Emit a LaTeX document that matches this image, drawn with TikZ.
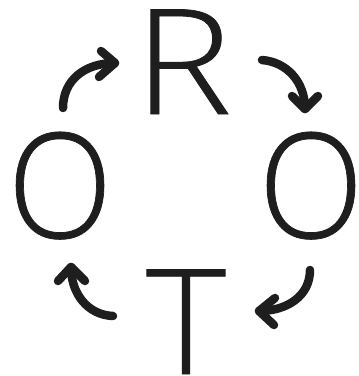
\documentclass[tikz,border=0pt]{standalone}
\usepackage{fontspec}
\usepackage{graphicx}
\newfontfamily\logofont{Open Sans Light}[FakeBold=0.5]
\definecolor{ink}{HTML}{1E1E1E}
\begin{document}
\begin{tikzpicture}[x=1bp,y=-1bp,
  letter/.style={inner sep=0pt, outer sep=0pt, anchor=base, text=ink, font=\logofont\fontsize{147}{147}\selectfont},
  arr/.style={line width=8.5bp, line cap=round, line join=round, draw=ink}]
\useasboundingbox (0,0) rectangle (359,376);
\node[letter] (R)  at (183,114) {\scalebox{1.12}[1]{R}};
\node[letter] (OL) at (60,238) {\scalebox{0.94}[1]{O}};
\node[letter] (OR) at (311,238) {\scalebox{0.94}[1]{O}};
\node[letter] (T)  at (186,374) {\scalebox{1.04}[1]{T}};
% top-left arrow
\coordinate (a1s) at (63,108);
\coordinate (a1t) at (115,63);
\draw[arr] (a1s) .. controls (63,80) and (85,63) .. (a1t);
\draw[arr] (101,51) -- (a1t) -- (99,77);
% top-right arrow
\coordinate (a2s) at (262,60);
\coordinate (a2t) at (305,109);
\draw[arr] (a2s) .. controls (287,62) and (305,82) .. (a2t);
\draw[arr] (292,96) -- (a2t) -- (318,96);
% bottom-right arrow
\coordinate (a3s) at (310,270);
\coordinate (a3t) at (259,311);
\draw[arr] (a3s) .. controls (310,296) and (287,311) .. (a3t);
\draw[arr] (275,298) -- (a3t) -- (274,325);
% bottom-left arrow
\coordinate (a4s) at (113,316);
\coordinate (a4t) at (71,267);
\draw[arr] (a4s) .. controls (88,315) and (71,294) .. (a4t);
\draw[arr] (58,281) -- (a4t) -- (85,281);
\end{tikzpicture}
\end{document}
